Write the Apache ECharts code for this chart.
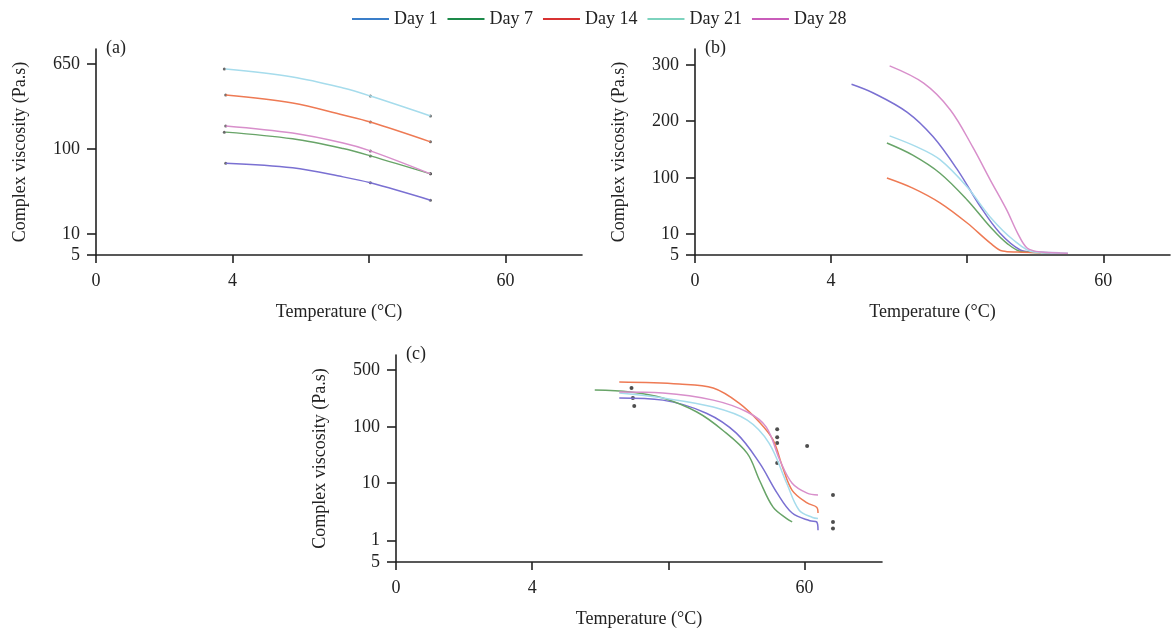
<!DOCTYPE html>
<html><head><meta charset="utf-8">
<script src="https://cdn.jsdelivr.net/npm/echarts@6/dist/echarts.min.js"></script>
<style>html,body{margin:0;padding:0;background:#fff}#c{width:1173px;height:630px}</style>
</head><body><div id="c"></div>
<script>
// ---- data ----
const days = ['Day 1', 'Day 7', 'Day 14', 'Day 21', 'Day 28'];
const xTickLabels = ['0', '4', '', '60'];

// panel (a)
const aX = [0.95, 1.44, 1.81, 2.01, 2.45];
const aDay1 = [68, 60, 47, 40, 25];
const aDay7 = [145, 125, 101, 83, 51];
const aDay14 = [328, 275, 211, 181, 117];
const aDay21 = [582, 488, 383, 321, 207];
const aDay28 = [166, 142, 114, 95, 51];
const aDotsX = [0.94, 0.95, 0.95, 0.94, 0.95, 2.01, 2.01, 2.01, 2.01, 2.01, 2.45, 2.45, 2.45, 2.45, 2.45];
const aDotsY = [582, 328, 166, 145, 68, 321, 181, 95, 83, 40, 207, 117, 51, 51, 25];

// panel (b)
const bX1 = [1.15, 1.31, 1.56, 1.75, 1.93, 2.10, 2.24, 2.39, 2.49, 2.68];
const bDay1 = [261, 245, 213, 165, 110, 30, 10.4, 5.9, 5.5, 5.4];
const bX7 = [1.41, 1.60, 1.80, 2.0, 2.17, 2.29, 2.41, 2.61];
const bDay7 = [153, 132, 106, 40.5, 13.3, 7.4, 5.5, 5.4];
const bX14 = [1.41, 1.60, 1.80, 2.0, 2.17, 2.26, 2.37, 2.54];
const bDay14 = [100, 66, 36, 15.7, 7.4, 5.7, 5.5, 5.4];
const bX21 = [1.43, 1.63, 1.80, 2.0, 2.17, 2.34, 2.49, 2.74];
const bDay21 = [167, 146, 125, 69, 20, 8.2, 5.5, 5.3];
const bX28 = [1.43, 1.68, 1.875, 2.04, 2.17, 2.29, 2.37, 2.44, 2.54, 2.74];
const bDay28 = [298, 263, 217, 146, 92, 27, 10.4, 6.3, 5.5, 5.3];

// panel (c)
const cX1 = [1.64, 1.96, 2.28, 2.50, 2.67, 2.80, 2.91, 3.04, 3.09, 3.10];
const cDay1 = [227, 214, 148, 78, 23, 6.7, 3.0, 2.2, 2.1, 1.5];
const cX7 = [1.46, 1.72, 1.96, 2.21, 2.40, 2.58, 2.67, 2.77, 2.87, 2.91];
const cDay7 = [284, 269, 227, 153, 88, 34, 11.3, 3.8, 2.4, 2.1];
const cX14 = [1.64, 2.08, 2.33, 2.52, 2.67, 2.77, 2.84, 2.91, 3.02, 3.09, 3.10];
const cDay14 = [356, 337, 301, 197, 115, 59, 19.3, 7.5, 4.5, 3.8, 3.0];
const cX21 = [1.64, 1.96, 2.33, 2.58, 2.74, 2.87, 2.96, 3.06, 3.10];
const cDay21 = [261, 227, 176, 122, 52, 10, 3.4, 2.5, 2.4];
const cX28 = [1.64, 1.96, 2.33, 2.58, 2.72, 2.82, 2.91, 3.02, 3.10];
const cDay28 = [269, 261, 214, 153, 100, 25.7, 10, 6.7, 6.2];
const cDotsX = [1.73, 1.74, 1.75, 2.80, 2.80, 2.80, 2.80, 3.02, 3.21, 3.21, 3.21];
const cDotsY = [301, 227, 181, 92, 66, 52, 23, 46, 6.2, 2.1, 1.6];

// y tick labels (the figure's own uneven scales)
const aYLabels = ['5', '10', '100', '650'];
const bYLabels = ['5', '10', '100', '200', '300'];
const cYLabels = ['5', '1', '10', '100', '500'];
const cYScaleVals = [1, 10, 100, 500];

// ---- scale definitions (pixel-like units from the axis) ----
const aYPos = [0, 21, 106, 191];
const bYPos = [0, 21, 77, 134, 190];
const cYPos = [0, 21.7, 78.7, 134.7, 191.7];
const Y_MAX = 206;

function makeScale(vals, pos) {
  return function (v) {
    const lv = Math.log(v);
    let i = 0;
    while (i < vals.length - 2 && v > vals[i + 1]) i++;
    const l0 = Math.log(vals[i]), l1 = Math.log(vals[i + 1]);
    return pos[i] + (lv - l0) / (l1 - l0) * (pos[i + 1] - pos[i]);
  };
}
const scaleA = makeScale(aYLabels.map(Number), aYPos);
const scaleB = makeScale(bYLabels.map(Number), bYPos);
const scaleC = makeScale(cYScaleVals, cYPos.slice(1));

const lineColors = ['#7a70d2', '#68a468', '#ee7a54', '#a6dcec', '#d88fcb'];
const legendColors = ['#3a7ec9', '#1d8a4a', '#d83232', '#7dd3be', '#c95cba'];
const FONT = 'Liberation Serif';
const FS = 18;

const chart = echarts.init(document.getElementById('c'));

const grids = [
  { left: 96, top: 49, width: 486, height: 206 },
  { left: 695, top: 49, width: 475, height: 206 },
  { left: 396, top: 355, width: 486, height: 207 }
];
const xMax = [3.56, 3.49, 3.57];
const yLabelSets = [aYLabels, bYLabels, cYLabels];
const yPosSets = [aYPos, bYPos, cYPos];

const axisLine = { show: true, lineStyle: { color: '#222', width: 1.6 } };

const xAxes = grids.map((g, i) => ({
  type: 'value', gridIndex: i, min: 0, max: xMax[i],
  name: 'Temperature (°C)', nameLocation: 'middle', nameGap: 48,
  nameTextStyle: { fontFamily: FONT, fontSize: FS, color: '#222' },
  axisLine: axisLine,
  axisTick: { show: true, customValues: [0, 1, 2, 3], length: 8, lineStyle: { color: '#222', width: 1.6 } },
  axisLabel: {
    customValues: [0, 1, 2, 3], margin: 17, fontFamily: FONT, fontSize: FS, color: '#222',
    formatter: v => xTickLabels[Math.round(v)]
  },
  splitLine: { show: false }
}));

const yAxes = grids.map((g, i) => ({
  type: 'value', gridIndex: i, min: 0, max: Y_MAX + (i === 2 ? 0.7 : 0),
  name: 'Complex viscosity (Pa.s)', nameLocation: 'middle', nameGap: 67, nameRotate: 90,
  nameTextStyle: { fontFamily: FONT, fontSize: FS, color: '#222' },
  axisLine: axisLine,
  axisTick: { show: true, customValues: yPosSets[i], length: 9, lineStyle: { color: '#222', width: 1.6 } },
  axisLabel: {
    customValues: yPosSets[i], margin: 16, fontFamily: FONT, fontSize: FS, color: '#222',
    formatter: v => {
      const k = yPosSets[i].findIndex(p => Math.abs(p - v) < 0.01);
      return k >= 0 ? yLabelSets[i][k] : '';
    }
  },
  splitLine: { show: false }
}));

const panelData = [
  { scale: scaleA, xs: [aX, aX, aX, aX, aX], ys: [aDay1, aDay7, aDay14, aDay21, aDay28] },
  { scale: scaleB, xs: [bX1, bX7, bX14, bX21, bX28], ys: [bDay1, bDay7, bDay14, bDay21, bDay28] },
  { scale: scaleC, xs: [cX1, cX7, cX14, cX21, cX28], ys: [cDay1, cDay7, cDay14, cDay21, cDay28] }
];

const series = [];
panelData.forEach((p, gi) => {
  days.forEach((d, di) => {
    series.push({
      type: 'line', name: d, xAxisIndex: gi, yAxisIndex: gi,
      smooth: 0.35, symbol: 'none',
      lineStyle: { color: lineColors[di], width: 1.5 },
      itemStyle: { color: lineColors[di] },
      data: p.xs[di].map((x, k) => [x, p.scale(p.ys[di][k])])
    });
  });
});
series.push({
  type: 'scatter', name: 'dotsA', xAxisIndex: 0, yAxisIndex: 0, symbolSize: 3,
  itemStyle: { color: '#444' }, data: aDotsX.map((x, k) => [x, scaleA(aDotsY[k])])
});
series.push({
  type: 'scatter', name: 'dotsC', xAxisIndex: 2, yAxisIndex: 2, symbolSize: 4,
  itemStyle: { color: '#222' }, data: cDotsX.map((x, k) => [x, scaleC(cDotsY[k])])
});

chart.setOption({
  animation: false,
  backgroundColor: '#fff',
  legend: {
    top: 5, left: 347, itemWidth: 37, itemHeight: 2, itemGap: 10,
    icon: 'rect',
    textStyle: { fontFamily: FONT, fontSize: FS, color: '#222' },
    data: days.map((d, i) => ({ name: d, itemStyle: { color: legendColors[i] }, lineStyle: { color: legendColors[i] } }))
  },
  title: [
    { text: '(a)', left: 101, top: 34, textStyle: { fontFamily: FONT, fontSize: FS, fontWeight: 'normal', color: '#222' } },
    { text: '(b)', left: 700, top: 34, textStyle: { fontFamily: FONT, fontSize: FS, fontWeight: 'normal', color: '#222' } },
    { text: '(c)', left: 401, top: 340, textStyle: { fontFamily: FONT, fontSize: FS, fontWeight: 'normal', color: '#222' } }
  ],
  grid: grids.map(g => Object.assign({ containLabel: false, outerBoundsMode: 'none' }, g)),
  xAxis: xAxes,
  yAxis: yAxes,
  series: series
});
</script>
</body></html>
